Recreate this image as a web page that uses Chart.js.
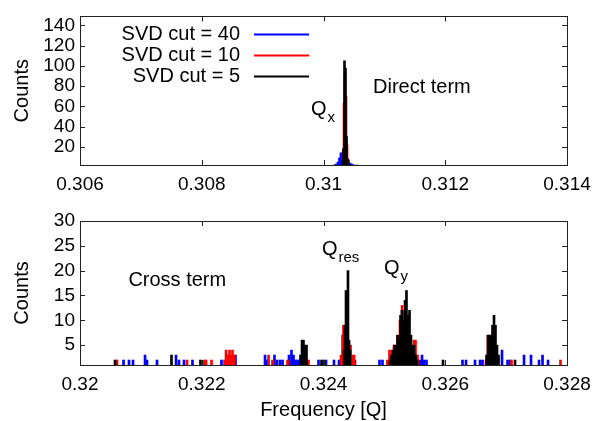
<!DOCTYPE html>
<html>
<head>
<meta charset="utf-8">
<script src="https://cdn.jsdelivr.net/npm/chart.js@4.4.1/dist/chart.umd.min.js"></script>
<style>
  body { margin: 0; background: #fff; }
  #wrap { position: relative; width: 600px; height: 421px; }
  canvas { position: absolute; left: 0; }
  #topChart { top: 0; }
  #bottomChart { top: 200px; }
</style>
</head>
<body>
<div id="wrap">
  <canvas id="topChart" width="600" height="200"></canvas>
  <canvas id="bottomChart" width="600" height="221"></canvas>
</div>
<script>
const seriesNames = ["SVD cut = 40", "SVD cut = 10", "SVD cut = 5"];
const seriesColors = ["#0000ff", "#ff0000", "#000000"];

// Direct term histogram: [frequency, counts]
const directCut40 = [[0.310172,2],[0.310205,3],[0.310238,5],[0.310263,9],[0.310287,14],[0.310312,13],
  [0.310337,10],[0.310361,9],[0.310386,8],[0.310411,7],[0.310435,4],[0.310468,3],[0.310501,2],[0.310550,2]];
const directCut10 = [[0.310320,15],[0.310337,63],[0.310353,90],[0.310370,70],[0.310386,22],[0.310402,6]];
const directCut5 = [[0.310312,6],[0.310328,18],[0.310345,105],[0.310361,98],[0.310378,30],[0.310394,8],[0.310411,3]];

// Cross term histogram: [frequency, counts]
const crossCut40 = [[0.320715,2],[0.320805,2],[0.320871,2],[0.321068,3],[0.321101,2],[0.321265,2],
  [0.321577,3],[0.321626,2],[0.321708,2],[0.321848,2],[0.322324,2],[0.322554,3],[0.323039,3],[0.323072,2],
  [0.323195,3],[0.323236,2],[0.323285,2],[0.323327,2],[0.323433,3],[0.323474,4],[0.323507,3],[0.323540,2],
  [0.323573,2],[0.323606,2],[0.323918,2],[0.324000,2],[0.324041,2],[0.324172,2],[0.324255,2],[0.324517,2],
  [0.324920,2],[0.324969,2],[0.325585,2],[0.325618,3],[0.325651,2],[0.325692,2],[0.326283,2],[0.326341,2],
  [0.326489,2],[0.326571,2],[0.326612,2],[0.326932,4],[0.327023,2],[0.327064,2],[0.327294,3],[0.327409,3],
  [0.327540,2],[0.327598,3],[0.327688,2]];
const crossCut10 = [[0.320608,2],[0.321758,2],[0.322037,2],[0.322070,2],[0.322160,2],[0.322374,2],
  [0.322398,4],[0.322431,3],[0.322456,4],[0.322480,3],[0.322505,4],[0.322530,3],[0.323097,3],[0.323162,2],
  [0.323409,2],[0.323671,5],[0.323754,2],
  [0.324287,3],[0.324312,7],[0.324328,9],[0.324345,9],[0.324361,7],[0.324419,5],[0.324444,5],[0.324468,3],[0.324501,3],
  [0.325051,2],[0.325084,4],[0.325125,4],[0.325158,5],[0.325216,7],[0.325257,10],[0.325290,13],[0.325314,12],
  [0.325339,12],[0.325372,10],[0.325487,6],[0.325511,6],[0.325544,3],
  [0.326669,2],[0.326702,7],[0.326727,7],[0.327088,2],[0.327893,2]];
const crossCut5 = [[0.320575,2],[0.321503,3],[0.321979,2],[0.323622,3],[0.323647,6],[0.323671,6],
  [0.323696,5],[0.323721,5],[0.323967,2],
  [0.324337,4],[0.324353,9],[0.324370,16],[0.324386,14],[0.324402,20],[0.324419,6],[0.324435,4],
  [0.325092,2],[0.325117,3],[0.325142,4],[0.325166,5],[0.325191,5],[0.325216,7],[0.325240,6],[0.325265,11],
  [0.325289,12],[0.325314,10],[0.325339,14],[0.325363,16],[0.325388,11],[0.325413,12],[0.325437,7],
  [0.325462,5],[0.325487,5],[0.325511,3],[0.325536,2],
  [0.325963,2],
  [0.326678,3],[0.326702,7],[0.326727,7],[0.326752,7],[0.326776,9],[0.326801,11],[0.326825,9],[0.326850,5],[0.326875,3],
  [0.327146,2]];

// axes
const topXTicks = [0.306, 0.308, 0.31, 0.312, 0.314];
const topYTicks = [20, 40, 60, 80, 100, 120, 140];
const bottomXTicks = [0.32, 0.322, 0.324, 0.326, 0.328];
const bottomYTicks = [5, 10, 15, 20, 25, 30];

const fontFamily = '"Liberation Sans", Arial, Helvetica, sans-serif';

function buildDatasets(series) {
  return series.map((pairs, i) => ({
    label: seriesNames[i],
    data: pairs.map(p => ({ x: p[0], y: p[1] })),
    backgroundColor: seriesColors[i],
    borderWidth: 0,
    barThickness: 2,
    grouped: false,
    order: 3 - i   // black drawn last, on top
  }));
}

function drawLabel(ctx, px, py, text, sub) {
  ctx.font = "20px " + fontFamily;
  ctx.textAlign = "left";
  ctx.textBaseline = "middle";
  ctx.fillText(text, px, py);
  if (sub) {
    const w = ctx.measureText(text).width;
    ctx.font = "15px " + fontFamily;
    ctx.fillText(sub, px + w + 1, py + 8);
  }
}

// gnuplot-like frame, inward ticks, labels and key
const gnuFrame = {
  id: "gnuFrame",
  afterDraw(chart, args, opts) {
    const ctx = chart.ctx;
    const a = chart.chartArea;
    const xs = chart.scales.x, ys = chart.scales.y;
    const tl = 5;
    ctx.save();
    ctx.strokeStyle = "#222";
    ctx.lineWidth = 1;
    ctx.beginPath();
    xs.ticks.forEach(t => {
      const px = Math.round(xs.getPixelForValue(t.value)) + 0.5;
      ctx.moveTo(px, a.bottom); ctx.lineTo(px, a.bottom - tl);
      ctx.moveTo(px, a.top); ctx.lineTo(px, a.top + tl);
    });
    ys.ticks.forEach(t => {
      const py = Math.round(ys.getPixelForValue(t.value)) + 0.5;
      ctx.moveTo(a.left, py); ctx.lineTo(a.left + tl, py);
      ctx.moveTo(a.right, py); ctx.lineTo(a.right - tl, py);
    });
    ctx.stroke();
    ctx.strokeRect(Math.round(a.left) + 0.5, Math.round(a.top) + 0.5,
      Math.round(a.right - a.left), Math.round(a.bottom - a.top));

    ctx.fillStyle = "#000";
    // y title
    ctx.save();
    ctx.translate(22, (a.top + a.bottom) / 2);
    ctx.rotate(-Math.PI / 2);
    ctx.font = "20px " + fontFamily;
    ctx.textAlign = "center";
    ctx.textBaseline = "middle";
    ctx.fillText("Counts", 0, 0);
    ctx.restore();

    (opts.labels || []).forEach(l => {
      drawLabel(ctx, xs.getPixelForValue(l.x), ys.getPixelForValue(l.y), l.text, l.sub);
    });

    if (opts.xTitle) {
      ctx.font = "20px " + fontFamily;
      ctx.textAlign = "center";
      ctx.textBaseline = "middle";
      ctx.fillText(opts.xTitle, (a.left + a.right) / 2, a.bottom + 45);
    }

    if (opts.key) {
      ctx.font = "20px " + fontFamily;
      ctx.textAlign = "right";
      ctx.textBaseline = "middle";
      chart.data.datasets.forEach((ds, i) => {
        const y = a.top + 18 + i * 21;
        ctx.fillStyle = "#000";
        ctx.fillText(ds.label, a.left + 160, y);
        ctx.strokeStyle = ds.backgroundColor;
        ctx.lineWidth = 2;
        ctx.beginPath();
        ctx.moveTo(a.left + 174, y);
        ctx.lineTo(a.left + 229, y);
        ctx.stroke();
      });
    }
    ctx.restore();
  }
};

function makeChart(id, series, xr, xTicks, yr, yTicks, padTop, xHeight, frameOpts) {
  return new Chart(document.getElementById(id), {
    type: "bar",
    data: { datasets: buildDatasets(series) },
    options: {
      responsive: false,
      animation: false,
      layout: { padding: { left: 0, right: 33, top: padTop, bottom: 0 } },
      plugins: {
        legend: { display: false },
        tooltip: { enabled: false },
        gnuFrame: frameOpts
      },
      scales: {
        x: {
          type: "linear", min: xr[0], max: xr[1], offset: false,
          grid: { display: false, drawTicks: false }, border: { display: false },
          afterBuildTicks: s => { s.ticks = xTicks.map(v => ({ value: v })); },
          afterFit: s => { s.height = xHeight; },
          ticks: { color: "#000", font: { family: fontFamily, size: 19 }, padding: 8,
                   maxRotation: 0, autoSkip: false, callback: v => String(v) }
        },
        y: {
          type: "linear", min: yr[0], max: yr[1],
          grid: { display: false, drawTicks: false }, border: { display: false },
          afterBuildTicks: s => { s.ticks = yTicks.map(v => ({ value: v })); },
          afterFit: s => { s.width = 80; },
          ticks: { color: "#000", font: { family: fontFamily, size: 19 }, padding: 5, autoSkip: false }
        }
      }
    },
    plugins: [gnuFrame]
  });
}

makeChart("topChart", [directCut40, directCut10, directCut5], [0.306, 0.314], topXTicks,
  [2, 149], topYTicks, 12, 35, {
    key: true,
    labels: [
      { x: 0.309795, y: 57, text: "Q", sub: "x" },
      { x: 0.310813, y: 79, text: "Direct term" }
    ]
  });

makeChart("bottomChart", [crossCut40, crossCut10, crossCut5], [0.32, 0.328], bottomXTicks,
  [1, 30], bottomYTicks, 21, 56, {
    xTitle: "Frequency [Q]",
    labels: [
      { x: 0.320795, y: 18.1, text: "Cross term" },
      { x: 0.323975, y: 24.2, text: "Q", sub: "res" },
      { x: 0.324994, y: 20.4, text: "Q", sub: "y" }
    ]
  });
</script>
</body>
</html>
